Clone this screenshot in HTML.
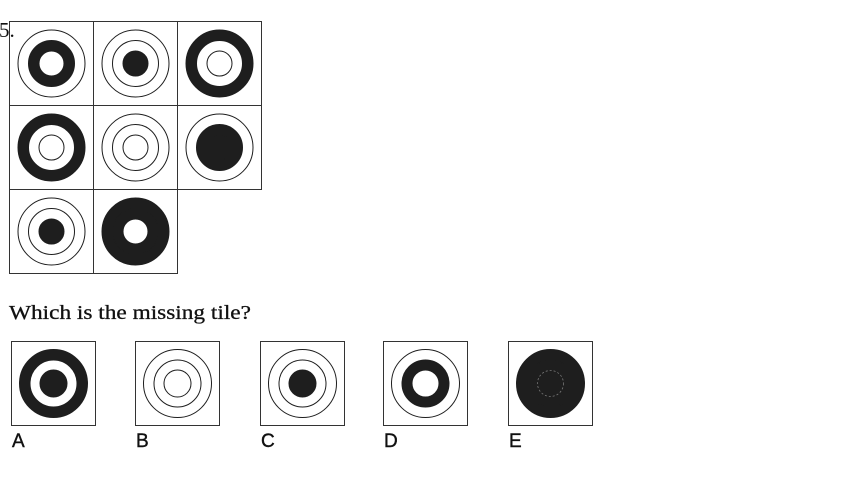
<!DOCTYPE html>
<html><head><meta charset="utf-8">
<style>
html,body{margin:0;padding:0;background:#fff;width:860px;height:478px;overflow:hidden}
svg{display:block}
</style></head>
<body>
<svg id="s" width="860" height="478" viewBox="0 0 860 478" xmlns="http://www.w3.org/2000/svg">
  <g id="grid"></g>
  <g id="opts"></g>
  <text x="-1" y="37" font-family="Liberation Serif, serif" font-size="21" fill="#111">5.</text>
  <text x="9" y="319" font-family="Liberation Serif, serif" font-size="20" fill="#111" stroke="#111" stroke-width="0.3" textLength="242" lengthAdjust="spacingAndGlyphs">Which is the missing tile?</text>
</svg>
<script>
// patterns: fill of [outer band r34, middle r23, inner r13]; 'b' black, 'w' white
const gridPatterns = [
  ['w','b','w'], ['w','w','b'], ['b','w','w'],
  ['b','w','w'], ['w','w','w'], ['w','b','b'],
  ['w','w','b'], ['b','b','w']
];
const optionLabels = ['A','B','C','D','E'];
const optionPatterns = [
  ['b','w','b'], ['w','w','w'], ['w','w','b'], ['w','b','w'], ['b','b','b']
];
const NS = 'http://www.w3.org/2000/svg';
function mk(tag, attrs, parent){
  const e = document.createElementNS(NS, tag);
  for (const k in attrs) e.setAttribute(k, attrs[k]);
  parent.appendChild(e);
  return e;
}
function tile(parent, x, y, pat, radii, dashedInner){
  const g = mk('g', {}, parent);
  mk('rect', {x:x+0.5, y:y+0.5, width:84, height:84, fill:'#fff', stroke:'#333', 'stroke-width':1}, g);
  const cx = x+42.5, cy = y+42.5;
  radii.forEach((r,i)=>{
    const f = pat[i]==='b' ? '#1e1e1e' : '#fff';
    const c = mk('circle', {cx:cx, cy:cy, r:r, fill:f, stroke:'#1e1e1e', 'stroke-width':1}, g);
    
    
  });
  if (dashedInner) mk('circle', {cx:cx, cy:cy, r:13, fill:'none', stroke:'#777', 'stroke-width':0.8, 'stroke-dasharray':'2 2'}, g);
  return g;
}
const grid = document.getElementById('grid');
gridPatterns.forEach((p, i)=>{
  const col = i % 3, row = Math.floor(i/3);
  const g = tile(grid, 9 + col*84, 21 + row*84, p, [33.5, 23, 12.5], false);
  
  
});
const opts = document.getElementById('opts');
const optX = [11, 135, 260, 383, 508];
optionPatterns.forEach((p, i)=>{
  const g = tile(opts, optX[i], 341, p, [34, 23.5, 13.5], i===4);
  
  
  const t = mk('text', {x:optX[i]+1, y:447, 'font-family':'Liberation Sans, sans-serif', 'font-size':19, fill:'#111', stroke:'#111', 'stroke-width':0.4}, opts);
  t.textContent = optionLabels[i];
  
  
});
</script>
</body></html>
